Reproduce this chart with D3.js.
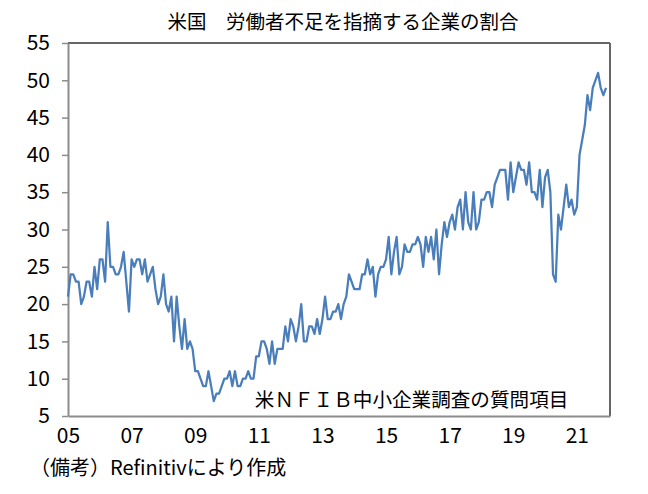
<!DOCTYPE html>
<html>
<head>
<meta charset="utf-8">
<script src="https://cdn.jsdelivr.net/npm/d3@7"></script>
<style>
  body { margin: 0; background: #fff; }
  svg { display: block; }
</style>
</head>
<body>
<svg id="chart" width="648" height="494"></svg>
<script>
// Monthly share of firms reporting hard-to-fill openings, Jan 2005 .. Dec 2021
const startYear = 2005;
const values = [
  21, 24, 24, 23, 23, 20, 21, 23, 23, 21, 25, 22, // 2005
  26, 26, 23, 31, 25, 25, 24, 24, 25, 27, 23, 19, // 2006
  26, 25, 26, 26, 24, 26, 23, 24, 25, 22, 20, 21, // 2007
  24, 20, 19, 21, 15, 21, 17, 14, 18, 14, 15, 14, // 2008
  11, 11, 10, 9, 9, 11, 9, 7, 8, 8, 9, 10,        // 2009
  10, 11, 9, 11, 9, 9, 10, 10, 11, 10, 10, 13,    // 2010
  13, 15, 15, 14, 12, 15, 12, 14, 14, 14, 17, 15, // 2011
  18, 17, 15, 17, 20, 15, 15, 17, 17, 16, 18, 16, // 2012
  18, 21, 18, 18, 19, 19, 20, 18, 20, 21, 24, 23, // 2013
  22, 22, 22, 24, 24, 26, 24, 25, 21, 24, 25, 25, // 2014
  26, 29, 24, 27, 29, 24, 25, 28, 27, 27, 28, 28, // 2015
  29, 28, 25, 29, 27, 29, 26, 30, 24, 28, 31, 29, // 2016
  31, 32, 30, 33, 34, 30, 35, 31, 30, 35, 30, 31, // 2017
  34, 34, 35, 35, 33, 36, 37, 38, 38, 38, 34, 39, // 2018
  35, 37, 39, 38, 38, 36, 39, 35, 35, 34, 38, 33, // 2019
  37, 38, 35, 24, 23, 32, 30, 33, 36, 33, 34, 32, // 2020
  33, 40, 42, 44, 48, 46, 49, 50, 51, 49, 48, 49  // 2021
];
const yTicks = [5, 10, 15, 20, 25, 30, 35, 40, 45, 50, 55];
const xLabelYears = [2005, 2007, 2009, 2011, 2013, 2015, 2017, 2019, 2021];

const titleText = "米国　労働者不足を指摘する企業の割合";
const seriesLabel = "米ＮＦＩＢ中小企業調査の質問項目";
const noteText = "（備考）Refinitivにより作成";

const svg = d3.select("#chart"),
    margin = { top: 43, right: 38, bottom: 78, left: 68 },
    width = 648 - margin.left - margin.right,
    height = 494 - margin.top - margin.bottom,
    g = svg.append("g").attr("transform", `translate(${margin.left},${margin.top})`);

const numFont = "'Noto Sans CJK JP', sans-serif";
const jpFont = "'Noto Sans CJK JP', sans-serif";

// month index -> x, last point sits a little inside the right frame
const x = d3.scaleLinear().domain([0, 204.5]).range([0, width]);
const y = d3.scaleLinear().domain([5, 55]).range([height, 0]);

// frame: top and right edges
g.append("line").attr("x1", 0).attr("x2", width).attr("y1", 0).attr("y2", 0)
    .attr("stroke", "#666").attr("stroke-width", 2);
g.append("line").attr("x1", width).attr("x2", width).attr("y1", 0).attr("y2", height)
    .attr("stroke", "#666").attr("stroke-width", 2);

// y axis
const yAxis = g.append("g")
    .call(d3.axisLeft(y).tickValues(yTicks).tickSize(6).tickPadding(12).tickSizeOuter(0));
yAxis.select(".domain").attr("stroke", "#8c8c8c").attr("stroke-width", 2);
yAxis.selectAll(".tick line").attr("stroke", "#8c8c8c").attr("stroke-width", 1.5);
yAxis.selectAll("text")
    .style("font-family", numFont).style("font-size", "21px").attr("fill", "#000");

// x axis
const xAxis = g.append("g").attr("transform", `translate(0,${height})`)
    .call(d3.axisBottom(x)
        .tickValues(xLabelYears.map(yr => (yr - startYear) * 12))
        .tickFormat(v => String((startYear + v / 12) % 100).padStart(2, "0"))
        .tickSize(0).tickPadding(12).tickSizeOuter(0));
xAxis.select(".domain").attr("stroke", "#8c8c8c").attr("stroke-width", 2);
xAxis.selectAll("text")
    .style("font-family", numFont).style("font-size", "21px").attr("fill", "#000");

// series line
const line = d3.line()
    .x((d, i) => x(i))
    .y(d => y(d));
g.append("path")
    .datum(values)
    .attr("fill", "none")
    .attr("stroke", "#4a7ebb")
    .attr("stroke-width", 2.25)
    .attr("stroke-linejoin", "round")
    .attr("d", line);

// series label inside plot
g.append("text")
    .attr("x", x(70.5)).attr("y", y(5) - 9)
    .style("font-family", jpFont).style("font-size", "19.6px")
    .attr("fill", "#000")
    .text(seriesLabel);

// title
svg.append("text")
    .attr("x", 343).attr("y", 29)
    .attr("text-anchor", "middle")
    .style("font-family", jpFont).style("font-size", "19.5px")
    .attr("fill", "#000")
    .text(titleText);

// source note
svg.append("text")
    .attr("x", 30).attr("y", 475)
    .style("font-family", jpFont).style("font-size", "20px")
    .attr("fill", "#000")
    .text(noteText);
</script>
</body>
</html>
